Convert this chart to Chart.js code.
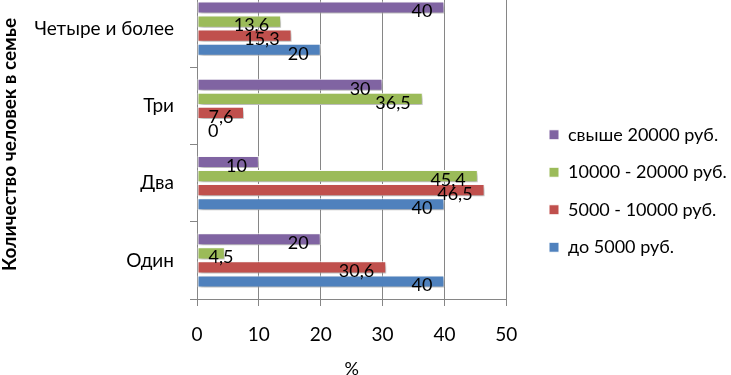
<!DOCTYPE html>
<html>
<head>
<meta charset="utf-8">
<script src="https://cdn.jsdelivr.net/npm/chart.js@4.4.1/dist/chart.umd.min.js"></script>
<style>
  html, body { margin: 0; padding: 0; overflow: hidden; background: #fff; }
  #contenedor { position: absolute; left: 0; top: -10px; width: 731px; height: 390px; }
</style>
</head>
<body>
<div id="contenedor"><canvas id="grafico"></canvas></div>
<script>
// Datos del gráfico
const categorias = ['Четыре и более', 'Три', 'Два', 'Один'];
const nombresSeries = ['свыше 20000 руб.', '10000 - 20000 руб.', '5000 - 10000 руб.', 'до 5000 руб.'];
const svyshe20000 = [40, 30, 10, 20];
const de10000a20000 = [13.6, 36.5, 45.4, 4.5];
const de5000a10000 = [15.3, 7.6, 46.5, 30.6];
const hasta5000 = [20, 0, 40, 40];
const ticksX = [0, 10, 20, 30, 40, 50];

const colores = ['#8064A2', '#9BBB59', '#C0504D', '#4F81BD'];
const valores = [svyshe20000, de10000a20000, de5000a10000, hasta5000];
const fuente = 'Lato';
const gris = '#868686';

// Sombra suave debajo de las barras (estilo Excel)
const sombraBarras = {
    id: 'sombraBarras',
    beforeDatasetsDraw(chart) {
        const ctx = chart.ctx;
        ctx.save();
        ctx.shadowColor = 'rgba(0,0,0,0.3)';
        ctx.shadowBlur = 4;
        ctx.shadowOffsetX = 2;
        ctx.shadowOffsetY = 3;
    },
    afterDatasetsDraw(chart) {
        chart.ctx.restore();
    }
};

// Etiquetas de valor al final de cada barra
const etiquetasValor = {
    id: 'etiquetasValor',
    afterDatasetsDraw(chart) {
        const ctx = chart.ctx;
        ctx.save();
        ctx.font = '18px ' + fuente;
        ctx.fillStyle = '#000';
        ctx.textAlign = 'right';
        ctx.textBaseline = 'middle';
        chart.data.datasets.forEach((ds, i) => {
            const meta = chart.getDatasetMeta(i);
            meta.data.forEach((barra, j) => {
                const texto = String(ds.data[j]).replace('.', ',');
                const ancho = ctx.measureText(texto).width;
                const xDer = Math.max(barra.x - 12, barra.base + 11 + ancho);
                ctx.fillText(texto, xDer, barra.y + 4);
            });
        });
        ctx.restore();
    }
};

// Mover la leyenda a su sitio
const posicionLeyenda = {
    id: 'posicionLeyenda',
    afterLayout(chart) {
        const lg = chart.legend;
        const pad = lg.options.labels.padding;
        lg.left = 549 - pad;
        lg.right = chart.width;
        lg.top += 6;
        lg.bottom += 6;
    }
};

new Chart(document.getElementById('grafico'), {
    type: 'bar',
    data: {
        labels: categorias,
        datasets: valores.map((v, i) => ({
            label: nombresSeries[i],
            data: v,
            backgroundColor: colores[i],
            borderColor: '#ffffff',
            borderWidth: 1,
            borderSkipped: false,
            categoryPercentage: 0.73,
            barPercentage: 0.86
        }))
    },
    options: {
        indexAxis: 'y',
        responsive: true,
        maintainAspectRatio: false,
        animation: false,
        layout: { padding: { right: 56 } },
        plugins: {
            tooltip: { enabled: false },
            legend: {
                position: 'right',
                labels: {
                    boxWidth: 10,
                    boxHeight: 10,
                    padding: 19.5,
                    color: '#000',
                    font: { family: fuente, size: 18 }
                }
            }
        },
        scales: {
            x: {
                min: 0,
                max: 50,
                afterBuildTicks: s => { s.ticks = ticksX.map(v => ({ value: v })); },
                afterFit: s => { s.height = 81; },
                grid: { color: gris, tickLength: 7, drawTicks: true },
                border: { color: gris },
                ticks: { color: '#000', padding: 17, font: { family: fuente, size: 19 } },
                title: {
                    display: true,
                    text: '%',
                    color: '#000',
                    font: { family: fuente, size: 18, lineHeight: 1.2 },
                    padding: { top: 12, bottom: 0 }
                }
            },
            y: {
                afterFit: s => {
                    s.width = 197;
                    s.paddingTop = 0;
                    s.paddingBottom = 0;
                },
                grid: { color: gris, drawOnChartArea: false, tickLength: 7, offset: true },
                border: { color: gris },
                ticks: { color: '#000', padding: 16, font: { family: fuente, size: 19 } },
                title: {
                    display: true,
                    text: 'Количество человек в семье',
                    color: '#000',
                    font: { family: fuente, size: 19, weight: 'bold', lineHeight: 1 },
                    padding: { top: 0, bottom: 0 }
                }
            }
        }
    },
    plugins: [sombraBarras, etiquetasValor, posicionLeyenda]
});
</script>
</body>
</html>
